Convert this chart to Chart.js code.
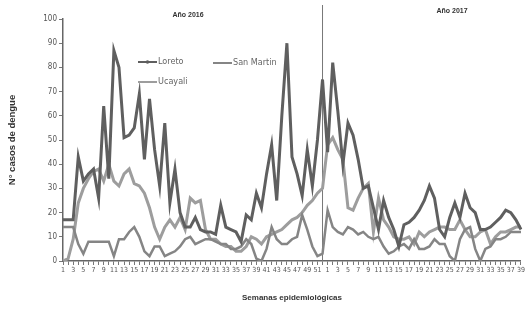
<!DOCTYPE html>
<html>
<head>
<meta charset="utf-8">
<script src="https://cdn.jsdelivr.net/npm/chart.js@4.4.0/dist/chart.umd.min.js"></script>
<style>
  html, body { margin: 0; padding: 0; background: #fff; }
</style>
</head>
<body>
<canvas id="chart" width="526" height="312"></canvas>
<script>
// semanas epidemiologicas
const weeks2016 = ['1','2','3','4','5','6','7','8','9','10','11','12','13','14','15','16','17','18','19','20',
  '21','22','23','24','25','26','27','28','29','30','31','32','33','34','35','36','37','38','39','40',
  '41','42','43','44','45','46','47','48','49','50','51','52'];
const weeks2017 = ['1','2','3','4','5','6','7','8','9','10','11','12','13','14','15','16','17','18','19','20',
  '21','22','23','24','25','26','27','28','29','30','31','32','33','34','35','36','37','38','39'];

const loreto2016 = [17, 17, 17, 43, 33, 36, 38, 26, 64, 34,
  87, 80, 51, 52, 55, 69, 42, 67, 46, 31,
  57, 24, 38, 20, 14, 14, 18, 13, 12, 12,
  11, 23, 14, 13, 12, 8, 19, 17, 28, 22,
  36, 48, 25, 60, 90, 43, 36, 27, 46, 31,
  50, 75];
const loreto2017 = [45, 82, 62, 40, 57, 52, 42, 30, 31, 22,
  13, 25, 18, 13, 6, 15, 16, 18, 21, 25,
  31, 26, 13, 10, 18, 24, 18, 28, 22, 20,
  13, 13, 14, 16, 18, 21, 20, 17, 13];

const ucayali2016 = [0, 1, 9, 24, 30, 34, 37, 38, 33, 40,
  33, 31, 36, 38, 32, 31, 28, 22, 14, 9,
  14, 17, 14, 18, 13, 26, 24, 25, 13, 9,
  9, 7, 6, 6, 4, 4, 6, 10, 9, 7,
  10, 11, 12, 13, 15, 17, 18, 20, 23, 25,
  28, 30];
const ucayali2017 = [48, 51, 46, 42, 22, 21, 26, 30, 32, 12,
  26, 17, 14, 10, 9, 9, 10, 7, 12, 10,
  12, 13, 14, 14, 13, 13, 17, 13, 10, 10,
  12, 13, 7, 10, 12, 12, 13, 14, 14];

const sanMartin2016 = [14, 14, 14, 7, 3, 8, 8, 8, 8, 8,
  2, 9, 9, 12, 14, 10, 4, 2, 6, 6,
  2, 3, 4, 6, 9, 10, 7, 8, 9, 9,
  8, 7, 7, 5, 5, 6, 9, 7, 1, 0,
  5, 14, 9, 7, 7, 9, 10, 19, 13, 6,
  2, 3];
const sanMartin2017 = [21, 14, 12, 11, 14, 13, 11, 12, 10, 9,
  10, 6, 3, 4, 6, 7, 5, 9, 5, 5,
  6, 9, 7, 7, 2, 0, 9, 13, 14, 5,
  0, 5, 6, 9, 9, 10, 12, 12, 12];

const yearTitles = ['Año 2016', 'Año 2017'];

const labels = weeks2016.concat(weeks2017);
const txtFont = "'Liberation Sans Narrow', 'DejaVu Sans Condensed', 'Liberation Sans', sans-serif";

const extras = {
    id: 'extras',
    beforeDatasetsDraw(chart) {
        var ctx = chart.ctx;
        var x = chart.scales.x.getPixelForValue(weeks2016.length - 1);
        ctx.save();
        ctx.strokeStyle = '#777';
        ctx.lineWidth = 1;
        ctx.beginPath();
        ctx.moveTo(x, 5);
        ctx.lineTo(x, chart.chartArea.bottom);
        ctx.stroke();
        ctx.restore();
    },
    afterDraw(chart) {
        var ctx = chart.ctx;
        ctx.save();
        // titulos de año
        ctx.fillStyle = '#333';
        ctx.font = "bold 7px 'Liberation Sans', sans-serif";
        ctx.textAlign = 'center';
        ctx.textBaseline = 'middle';
        ctx.fillText(yearTitles[0], 188, 15);
        ctx.fillText(yearTitles[1], 452, 11);

        // leyenda dentro del grafico
        var items = [
            {text: 'Loreto', color: '#5f5f5f', x: 138, y: 62, dot: true},
            {text: 'San Martin', color: '#858585', x: 213, y: 63, dot: false},
            {text: 'Ucayali', color: '#9d9d9d', x: 138, y: 82, dot: false}
        ];
        ctx.font = "9px " + txtFont;
        ctx.textAlign = 'left';
        items.forEach(function(it) {
            ctx.strokeStyle = it.color;
            ctx.lineWidth = 2;
            ctx.beginPath();
            ctx.moveTo(it.x, it.y);
            ctx.lineTo(it.x + 19, it.y);
            ctx.stroke();
            if (it.dot) {
                ctx.fillStyle = it.color;
                ctx.beginPath();
                ctx.arc(it.x + 9.5, it.y, 1.8, 0, Math.PI * 2);
                ctx.fill();
            }
            ctx.fillStyle = '#666';
            ctx.fillText(it.text, it.x + 20, it.y);
        });
        ctx.restore();
    }
};

var ctx = document.getElementById('chart').getContext('2d');
var chart = new Chart(ctx, {
    type: 'line',
    data: {
        labels: labels,
        datasets: [{
                label: 'Loreto',
                data: loreto2016.concat(loreto2017),
                borderColor: '#5f5f5f',
                borderWidth: 3,
                pointRadius: 0,
                tension: 0
            },
            {
                label: 'San Martin',
                data: sanMartin2016.concat(sanMartin2017),
                borderColor: '#858585',
                borderWidth: 2.5,
                pointRadius: 0,
                tension: 0
            },
            {
                label: 'Ucayali',
                data: ucayali2016.concat(ucayali2017),
                borderColor: '#9d9d9d',
                borderWidth: 3,
                pointRadius: 0,
                tension: 0
            }
        ]
    },
    options: {
        responsive: false,
        animation: false,
        layout: { padding: { top: 19, right: 4, bottom: 0, left: 0 } },
        plugins: {
            legend: { display: false },
            tooltip: { enabled: false }
        },
        scales: {
            x: {
                afterFit: function(scale) { scale.height = 51; },
                border: { display: true, color: '#666', width: 1.5 },
                grid: { drawOnChartArea: false, drawTicks: true, tickLength: 4, color: '#777' },
                ticks: {
                    autoSkip: false,
                    maxRotation: 0,
                    minRotation: 0,
                    padding: 1,
                    color: '#555',
                    font: { size: 7, family: txtFont },
                    callback: function(val, index) {
                        return index % 2 === 0 ? this.getLabelForValue(val) : '';
                    }
                },
                title: {
                    display: true,
                    text: 'Semanas epidemiológicas',
                    color: '#333',
                    font: { size: 8, weight: 'bold', family: "'Liberation Sans', sans-serif" },
                    padding: { top: 0, bottom: 9 }
                }
            },
            y: {
                min: 0,
                max: 100,
                afterFit: function(scale) { scale.width = 63; },
                border: { display: true, color: '#666', width: 1.5 },
                grid: { drawOnChartArea: false, drawTicks: true, tickLength: 4, color: '#777' },
                ticks: {
                    stepSize: 10,
                    padding: 2,
                    color: '#555',
                    font: { size: 8, family: txtFont }
                },
                title: {
                    display: true,
                    text: 'N° casos de dengue',
                    color: '#333',
                    font: { size: 9.5, weight: 'bold', family: "'Liberation Sans', sans-serif" },
                    padding: { top: 7, bottom: 0 }
                }
            }
        }
    },
    plugins: [extras]
});
</script>
</body>
</html>
